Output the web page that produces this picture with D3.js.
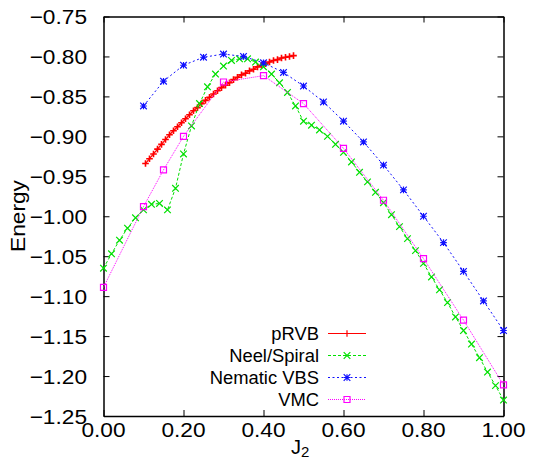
<!DOCTYPE html>
<html>
<head>
<meta charset="utf-8">
<script src="https://cdn.jsdelivr.net/npm/d3@7"></script>
<style>
  body { margin: 0; background: #fff; }
  text { font-family: "Liberation Sans", Arial, sans-serif; fill: #000; }
</style>
</head>
<body>
<script>
// J2 values for each method
var rvbJ = [0.105, 0.115, 0.125, 0.135, 0.145, 0.155, 0.165, 0.175, 0.185, 0.195,
            0.205, 0.215, 0.225, 0.235, 0.245, 0.255, 0.265, 0.275, 0.285, 0.295,
            0.305, 0.315, 0.325, 0.335, 0.345, 0.355, 0.365, 0.375, 0.385, 0.395,
            0.405, 0.415, 0.425, 0.435, 0.445, 0.455, 0.465, 0.475];
var rvbE = [-0.934, -0.928, -0.922, -0.916, -0.910, -0.904, -0.898, -0.893, -0.888, -0.883,
            -0.878, -0.873, -0.868, -0.864, -0.859, -0.855, -0.851, -0.847, -0.843, -0.839,
            -0.836, -0.833, -0.829, -0.826, -0.823, -0.821, -0.818, -0.816, -0.813, -0.811,
            -0.809, -0.807, -0.805, -0.804, -0.802, -0.801, -0.800, -0.799];

var neelJ = [0.00, 0.02, 0.04, 0.06, 0.08, 0.10, 0.12, 0.14, 0.16, 0.18,
             0.20, 0.22, 0.24, 0.26, 0.28, 0.30, 0.32, 0.34, 0.36, 0.38,
             0.40, 0.42, 0.44, 0.46, 0.48, 0.50, 0.52, 0.54, 0.56, 0.58,
             0.60, 0.62, 0.64, 0.66, 0.68, 0.70, 0.72, 0.74, 0.76, 0.78,
             0.80, 0.82, 0.84, 0.86, 0.88, 0.90, 0.92, 0.94, 0.96, 0.98, 1.00];
var neelE = [-1.065, -1.047, -1.030, -1.015, -1.002, -0.992, -0.985, -0.984, -0.992, -0.965,
             -0.922, -0.887, -0.859, -0.838, -0.822, -0.812, -0.805, -0.803, -0.803, -0.807,
             -0.813, -0.822, -0.833, -0.845, -0.862, -0.881, -0.886, -0.892, -0.900, -0.910,
             -0.920, -0.932, -0.945, -0.957, -0.970, -0.983, -0.998, -1.013, -1.028, -1.043,
             -1.059, -1.076, -1.092, -1.108, -1.126, -1.143, -1.160, -1.177, -1.195, -1.212, -1.230];

var vbsJ = [0.10, 0.15, 0.20, 0.25, 0.30, 0.35, 0.40, 0.45, 0.50, 0.55,
            0.60, 0.65, 0.70, 0.75, 0.80, 0.85, 0.90, 0.95, 1.00];
var vbsE = [-0.862, -0.831, -0.811, -0.801, -0.797, -0.800, -0.808, -0.820, -0.837, -0.857,
            -0.881, -0.907, -0.936, -0.967, -1.000, -1.033, -1.069, -1.106, -1.143];

var vmcJ = [0.00, 0.10, 0.15, 0.20, 0.30, 0.40, 0.50, 0.60, 0.70, 0.80, 0.90, 1.00];
var vmcE = [-1.089, -0.988, -0.942, -0.900, -0.832, -0.824, -0.859, -0.915, -0.980, -1.053, -1.130, -1.211];

var xTicks = [0, 0.2, 0.4, 0.6, 0.8, 1.0];
var yTicks = [-1.25, -1.20, -1.15, -1.10, -1.05, -1.00, -0.95, -0.90, -0.85, -0.80, -0.75];
var names = ["pRVB", "Neel/Spiral", "Nematic VBS", "VMC"];

var width = 539, height = 460;
var plotL = 103.5, plotR = 503.5, plotT = 16.5, plotB = 416;

var svg = d3.select("body").append("svg")
  .attr("width", width)
  .attr("height", height);

var x = d3.scaleLinear().domain([0, 1]).range([plotL, plotR]);
var y = d3.scaleLinear().domain([-1.25, -0.75]).range([plotB, plotT]);

var series = [
  {name: names[0], xs: rvbJ, ys: rvbE, color: "#ff0000", dash: null, width: 1.2, marker: "plus", mw: 1.6},
  {name: names[1], xs: neelJ, ys: neelE, color: "#00e000", dash: "3,2", width: 1, marker: "cross", mw: 1.2},
  {name: names[2], xs: vbsJ, ys: vbsE, color: "#1010ff", dash: "2,2.5", width: 1, marker: "star", mw: 1.2},
  {name: names[3], xs: vmcJ, ys: vmcE, color: "#ff00ff", dash: "1,1", width: 1, marker: "square", mw: 1.2}
];

var s = 3.3;
var markerPath = {
  plus: "M" + (-s) + ",0H" + s + "M0," + (-s) + "V" + s,
  cross: "M" + (-s) + "," + (-s) + "L" + s + "," + s + "M" + (-s) + "," + s + "L" + s + "," + (-s),
  star: "M" + (-s) + ",0H" + s + "M0," + (-s) + "V" + s +
        "M" + (-s) + "," + (-s) + "L" + s + "," + s + "M" + (-s) + "," + s + "L" + s + "," + (-s),
  square: "M-3,-3H3V3H-3Z"
};

// frame with inward ticks on all four sides
var axes = svg.append("g");
axes.append("g")
  .attr("transform", "translate(0," + plotB + ")")
  .call(d3.axisBottom(x).tickValues(xTicks).tickSizeInner(-6).tickSizeOuter(0).tickFormat(""));
axes.append("g")
  .attr("transform", "translate(0," + plotT + ")")
  .call(d3.axisTop(x).tickValues(xTicks).tickSizeInner(-6).tickSizeOuter(0).tickFormat(""));
axes.append("g")
  .attr("transform", "translate(" + plotL + ",0)")
  .call(d3.axisLeft(y).tickValues(yTicks).tickSizeInner(-6).tickSizeOuter(0).tickFormat(""));
axes.append("g")
  .attr("transform", "translate(" + plotR + ",0)")
  .call(d3.axisRight(y).tickValues(yTicks).tickSizeInner(-6).tickSizeOuter(0).tickFormat(""));
axes.selectAll(".domain").attr("stroke", "#000").attr("stroke-width", 1.5);
axes.selectAll(".tick line").attr("stroke", "#000").attr("stroke-width", 1);

// tick labels
svg.selectAll(".xlab").data(xTicks).enter().append("text")
  .attr("class", "xlab")
  .attr("transform", function(d) { return "translate(" + x(d) + ",437) scale(1.08,1)"; })
  .attr("text-anchor", "middle")
  .style("font-size", "21px")
  .text(function(d) { return d3.format(".2f")(d); });

svg.selectAll(".ylab").data(yTicks).enter().append("text")
  .attr("class", "ylab")
  .attr("transform", function(d) { return "translate(87," + (y(d) + 7.5) + ") scale(1.08,1)"; })
  .attr("text-anchor", "end")
  .style("font-size", "21px")
  .text(function(d) { return d3.format(".2f")(d); });

// axis titles
svg.append("text")
  .attr("transform", "translate(25,216) rotate(-90) scale(1.08,1)")
  .attr("text-anchor", "middle")
  .style("font-size", "21px")
  .text("Energy");

var xt = svg.append("text")
  .attr("x", 291)
  .attr("y", 454)
  .style("font-size", "20px");
xt.append("tspan").text("J");
xt.append("tspan").attr("dy", 3).style("font-size", "15px").text("2");

// series
var line = d3.line();
series.forEach(function(sr) {
  var pts = sr.xs.map(function(d, i) { return [x(d), y(sr.ys[i])]; });
  svg.append("path")
    .attr("d", line(pts))
    .attr("fill", "none")
    .attr("stroke", sr.color)
    .attr("stroke-width", sr.width)
    .attr("stroke-dasharray", sr.dash);
  svg.append("g").selectAll("path")
    .data(pts)
    .enter()
    .append("path")
    .attr("transform", function(p) { return "translate(" + p[0] + "," + p[1] + ")"; })
    .attr("d", markerPath[sr.marker])
    .attr("fill", "none")
    .attr("stroke", sr.color)
    .attr("stroke-width", sr.mw);
});

// legend
var legend = svg.append("g");
series.forEach(function(sr, i) {
  var ly = 333.5 + i * 22;
  legend.append("text")
    .attr("transform", "translate(319," + (ly + 6.5) + ") scale(1.05,1)")
    .attr("text-anchor", "end")
    .style("font-size", "17.5px")
    .text(sr.name);
  legend.append("line")
    .attr("x1", 328).attr("x2", 366)
    .attr("y1", ly).attr("y2", ly)
    .attr("stroke", sr.color)
    .attr("stroke-width", sr.width)
    .attr("stroke-dasharray", sr.dash);
  legend.append("path")
    .attr("transform", "translate(347," + ly + ")")
    .attr("d", markerPath[sr.marker])
    .attr("fill", "none")
    .attr("stroke", sr.color)
    .attr("stroke-width", 1.2);
});
</script>
</body>
</html>
